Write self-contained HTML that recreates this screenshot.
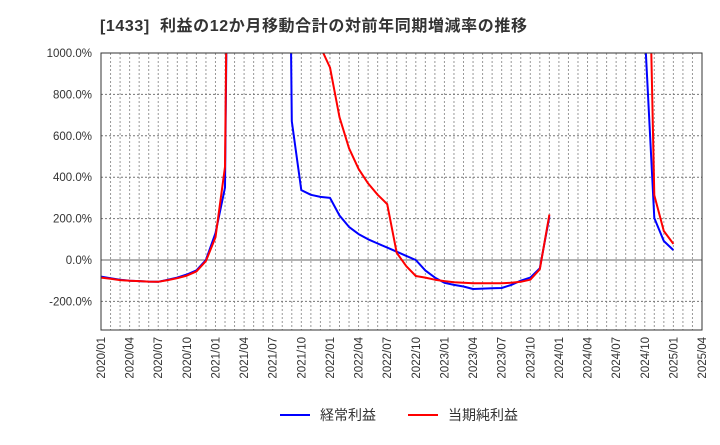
<!DOCTYPE html>
<html><head><meta charset="utf-8"><style>
body{margin:0;background:#fff;font-family:"Liberation Sans","Noto Sans CJK JP",sans-serif;}
</style></head><body>
<svg id="chart" width="720" height="440" xmlns="http://www.w3.org/2000/svg" font-family="Liberation Sans, Noto Sans CJK JP, sans-serif">
<text x="100" y="31" font-size="16" font-weight="bold" fill="#333" letter-spacing="0.6" style="white-space:pre">[1433]  利益の12か月移動合計の対前年同期増減率の推移</text>
<defs><clipPath id="pc"><rect x="101" y="53" width="601" height="277"/></clipPath></defs>
<g id="grid"></g>
<g id="series" clip-path="url(#pc)"></g>
<rect x="101" y="53" width="601" height="277" fill="none" stroke="#333" stroke-width="1"/>
<g id="yaxis"></g>
<g id="xaxis"></g>
<g>
<line x1="280" y1="415" x2="310" y2="415" stroke="#0000ff" stroke-width="2"/>
<text x="320" y="420" font-size="14" fill="#333">経常利益</text>
<line x1="408" y1="415" x2="438" y2="415" stroke="#ff0000" stroke-width="2"/>
<text x="448" y="420" font-size="14" fill="#333">当期純利益</text>
</g>
</svg>
<script>
const yTicks=[1000,800,600,400,200,0,-200];
const xTickLabels=["2020/01","2020/04","2020/07","2020/10","2021/01","2021/04","2021/07","2021/10","2022/01","2022/04","2022/07","2022/10","2023/01","2023/04","2023/07","2023/10","2024/01","2024/04","2024/07","2024/10","2025/01","2025/04"];
const ordinaryValues=[-80,-88,-95,-100,-102,-104,-105,-95,-85,-70,-50,0,130,350,5000,5000,5000,5000,5000,5000,670,338,315,305,300,215,160,125,100,80,60,40,20,0,-50,-85,-110,-120,-128,-140,-138,-136,-135,-120,-100,-85,-40,210,null,null,null,null,null,null,null,null,null,1100,203,92,48];
const netValues=[-85,-90,-97,-100,-102,-104,-105,-97,-88,-75,-55,-5,110,450,5000,5000,5000,5000,5000,5000,5000,5000,5000,1030,930,690,540,440,370,315,270,35,-30,-77,-85,-95,-102,-107,-110,-112,-112,-112,-112,-110,-105,-95,-45,220,null,null,null,null,null,null,null,null,null,2500,313,140,78];
const X0=101,X1=702,Y0=53,Y1=330,VMAX=1000,VMIN=-338,NM=63;
const xs=i=>X0+i*(X1-X0)/NM;
const ys=v=>Y0+(VMAX-v)*(Y1-Y0)/(VMAX-VMIN);
const NS="http://www.w3.org/2000/svg";
function mk(t,a,p){const e=document.createElementNS(NS,t);for(const k in a)e.setAttribute(k,a[k]);p.appendChild(e);return e;}
const grid=document.getElementById('grid');
for(let m=1;m<NM;m++){const l=mk('line',{x1:xs(m),x2:xs(m),y1:Y0,y2:Y1,stroke:'#999','stroke-dasharray':'2,2','stroke-width':1},grid);

}
const ya=document.getElementById('yaxis');
yTicks.forEach(v=>{const l=mk('line',{x1:X0,x2:X1,y1:ys(v),y2:ys(v),stroke:v===0?'#666':'#777','stroke-dasharray':v===0?'':'2,2','stroke-width':1},grid);


const t=mk('text',{x:92,y:ys(v)+4,'text-anchor':'end','font-size':11.5,fill:'#333'},ya);


t.textContent=v.toFixed(1)+'%';});
const xa=document.getElementById('xaxis');
xTickLabels.forEach((s,i)=>{const x=xs(i*3)+4;const t=mk('text',{x:x,y:337,'text-anchor':'end','font-size':11.5,fill:'#333',transform:`rotate(-90 ${x} 337)`},xa);


t.textContent=s;});
const sg=document.getElementById('series');
function draw(vals,color,name){let segs=[],cur=[];vals.forEach((v,i)=>{if(v===null){if(cur.length)segs.push(cur);cur=[];}else cur.push(xs(i).toFixed(1)+','+ys(v).toFixed(1));});if(cur.length)segs.push(cur);
segs.forEach(sgm=>{const p=mk('polyline',{points:sgm.join(' '),fill:'none',stroke:color,'stroke-width':2,'stroke-linejoin':'round'},sg);

});}
draw(ordinaryValues,'#0000ff','ordinary-profit-line');
draw(netValues,'#ff0000','net-profit-line');
</script>
</body></html>
